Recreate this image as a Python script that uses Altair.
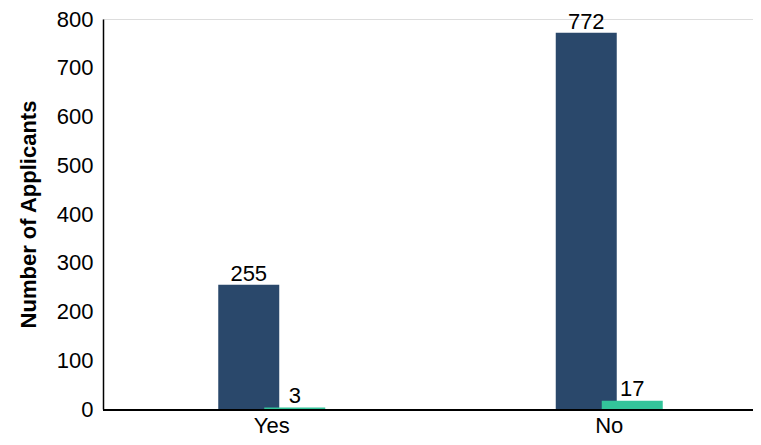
import altair as alt
import pandas as pd

categories = ["Yes", "No"]
series_a = [255, 772]   # dark bars
series_b = [3, 17]      # teal bars

DARK = "#2a486b"
TEAL = "#33c49a"
FONT = "Liberation Sans"

df_a = pd.DataFrame({"category": categories, "value": series_a})
df_b = pd.DataFrame({"category": categories, "value": series_b})

x_enc = alt.X(
    "category:N",
    sort=categories,
    scale=alt.Scale(range=[0, 675], paddingInner=0, paddingOuter=0),
    axis=alt.Axis(
        title=None, ticks=False, domain=False, labelAngle=0, labelFontSize=22, labelPadding=6,
        labelColor="black", labelFont=FONT,
    ),
)
y_enc = alt.Y(
    "value:Q",
    scale=alt.Scale(domain=[0, 800], nice=False),
    axis=alt.Axis(
        values=[0, 100, 200, 300, 400, 500, 600, 700, 800],
        title="Number of Applicants", grid=False, ticks=False,
        labelFontSize=22, labelPadding=10, labelColor="black", labelFont=FONT,
        titleFontSize=22, titleFontWeight="bold", titleColor="black", titleFont=FONT,
        titlePadding=16, domainColor="black", domainWidth=1.5,
    ),
)

bars_a = alt.Chart(df_a).mark_bar(width=61, xOffset=-23, color=DARK).encode(x=x_enc, y=y_enc)
bars_b = alt.Chart(df_b).mark_bar(width=61, xOffset=23, color=TEAL).encode(x=x_enc, y=y_enc)
text_a = alt.Chart(df_a).mark_text(
    xOffset=-23, dy=-4, baseline="alphabetic", fontSize=22, font=FONT, color="black"
).encode(x=x_enc, y=y_enc, text="value:Q")
text_b = alt.Chart(df_b).mark_text(
    xOffset=23, dy=-5, baseline="alphabetic", fontSize=22, font=FONT, color="black"
).encode(x=x_enc, y=y_enc, text="value:Q")
x_line = alt.Chart(df_a).mark_rule(color="black", strokeWidth=2).encode(
    x=alt.value(0), x2=alt.value(650), y=alt.value(391)
)

chart = alt.layer(x_line, bars_a, bars_b, text_a, text_b).properties(
    width=650,
    height=390,
    autosize=alt.AutoSizeParams(type="none"),
    padding={"left": 95, "top": 11, "right": 0, "bottom": 28},
).configure_view(stroke=None).configure(font=FONT)

chart.save("out.html", embed_options={"renderer": "svg", "actions": False})
